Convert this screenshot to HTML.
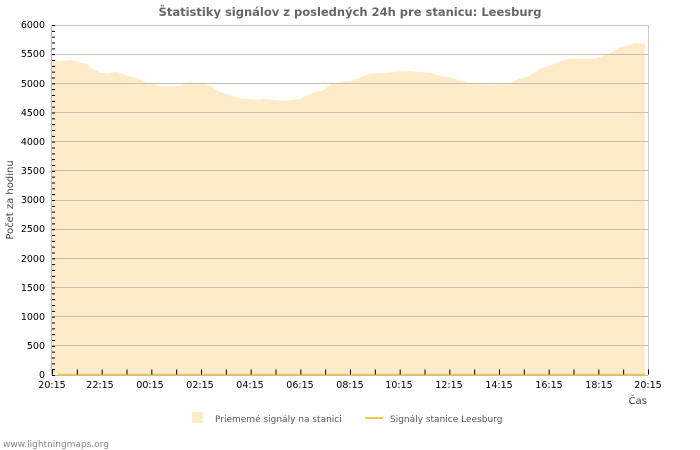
<!DOCTYPE html>
<html><head><meta charset="utf-8"><style>
body{margin:0;background:#fff;}
svg{display:block;font-family:"DejaVu Sans","Liberation Sans",sans-serif;}
</style></head><body>
<svg width="700" height="450" viewBox="0 0 700 450" xmlns="http://www.w3.org/2000/svg">
<rect width="700" height="450" fill="#fff"/>
<text x="350" y="16" text-anchor="middle" font-size="11.5" font-weight="bold" fill="#666">Štatistiky signálov z posledných 24h pre stanicu: Leesburg</text>
<polygon fill="#fdebc9" points="52,375 52,60 60,61.2 70,60 75,60.6 80,62.9 87,63.5 92,68.75 100,72.8 108,73.4 115,71.7 120,72.8 127,75.75 135,77.5 140,79.8 148,83.3 155,83.9 160,85.7 170,86.25 180,85.7 187,83.3 190,81.6 195,83.3 205,83.9 212,86.8 220,92.1 230,95 240,98.5 260,99.7 265,98.5 275,100.25 285,100.8 295,99.7 300,99.1 305,96.2 315,92.1 322,90.9 330,84.5 340,82.2 350,81 360,77.5 370,73.4 390,72.8 395,71.7 410,71.1 430,72.8 440,75.75 450,77.5 460,80.4 470,83.3 490,84.5 510,83.3 520,78.7 530,75.75 540,68.75 550,65.8 560,61.2 570,58.8 595,58.8 600,57.1 610,53 620,47.2 630,44.8 635,42.5 645,43.7 645,375"/>
<g stroke="#c8bfae" stroke-width="1">
<line x1="52" x2="648" y1="25.5" y2="25.5"/><line x1="52" x2="648" y1="54.5" y2="54.5"/><line x1="52" x2="648" y1="83.5" y2="83.5"/><line x1="52" x2="648" y1="112.5" y2="112.5"/><line x1="52" x2="648" y1="141.5" y2="141.5"/><line x1="52" x2="648" y1="170.5" y2="170.5"/><line x1="52" x2="648" y1="200.5" y2="200.5"/><line x1="52" x2="648" y1="229.5" y2="229.5"/><line x1="52" x2="648" y1="258.5" y2="258.5"/><line x1="52" x2="648" y1="287.5" y2="287.5"/><line x1="52" x2="648" y1="316.5" y2="316.5"/><line x1="52" x2="648" y1="345.5" y2="345.5"/>
</g>
<line x1="648.5" x2="648.5" y1="25" y2="375" stroke="#ccc"/>
<line x1="51.5" x2="51.5" y1="25" y2="375" stroke="#bbb"/>
<line x1="52" x2="648" y1="375.5" y2="375.5" stroke="#bbb"/>
<line x1="58" x2="645" y1="374.5" y2="374.5" stroke="#f5c842" stroke-width="1.5"/>
<line x1="53.5" x2="53.5" y1="25" y2="376" stroke="#000" stroke-width="3" stroke-dasharray="1 4.8333"/>
<line x1="52" x2="649" y1="372" y2="372" stroke="#000" stroke-width="5" stroke-dasharray="1 23.833"/>
<g font-size="9.5" fill="#000" text-anchor="end">
<text x="45" y="28">6000</text><text x="45" y="57">5500</text><text x="45" y="87">5000</text><text x="45" y="116">4500</text><text x="45" y="145">4000</text><text x="45" y="174">3500</text><text x="45" y="203">3000</text><text x="45" y="232">2500</text><text x="45" y="262">2000</text><text x="45" y="291">1500</text><text x="45" y="320">1000</text><text x="45" y="349">500</text><text x="45" y="378">0</text>
</g>
<g font-size="9.5" fill="#000" text-anchor="middle">
<text x="52" y="388">20:15</text><text x="100" y="388">22:15</text><text x="150" y="388">00:15</text><text x="200" y="388">02:15</text><text x="250" y="388">04:15</text><text x="300" y="388">06:15</text><text x="350" y="388">08:15</text><text x="399" y="388">10:15</text><text x="449" y="388">12:15</text><text x="499" y="388">14:15</text><text x="549" y="388">16:15</text><text x="599" y="388">18:15</text><text x="648" y="388">20:15</text>
</g>
<text x="647" y="404" font-size="10" fill="#444" text-anchor="end">Čas</text>
<text transform="translate(13,200) rotate(-90)" font-size="10" fill="#444" text-anchor="middle">Počet za hodinu</text>
<rect x="192" y="412" width="11" height="11" fill="#fdebc9"/>
<text x="215" y="422" font-size="9" fill="#555">Priememé signály na stanici</text>
<line x1="365" x2="383" y1="418" y2="418" stroke="#f5c842" stroke-width="2"/>
<text x="390" y="422" font-size="9" fill="#555">Signály stanice Leesburg</text>
<text x="3" y="447" font-size="9" fill="#888">www.lightningmaps.org</text>
</svg>
</body></html>
